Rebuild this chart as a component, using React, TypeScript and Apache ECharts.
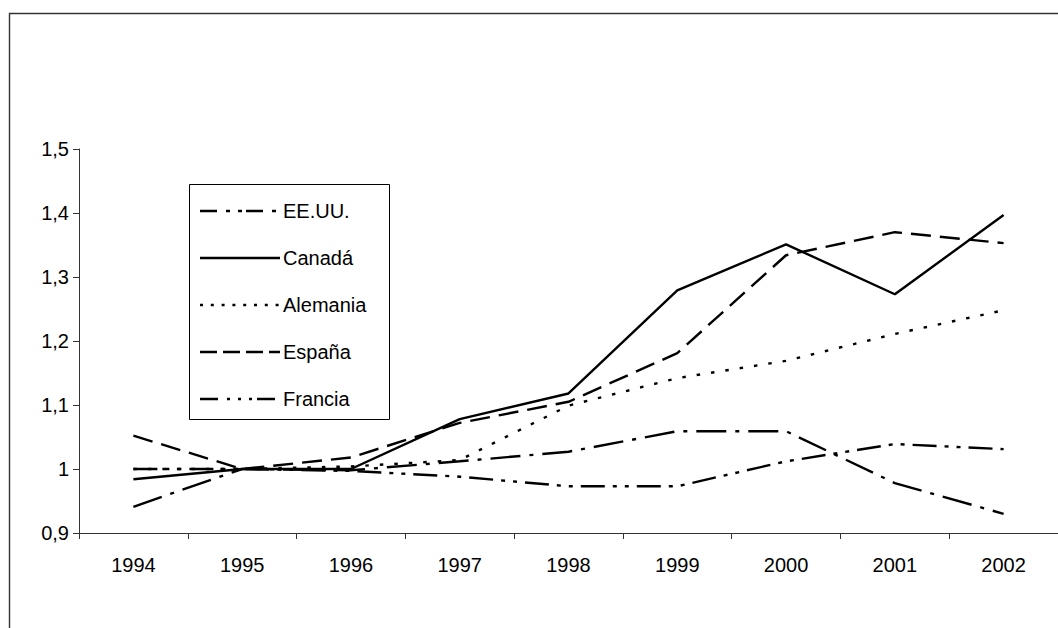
import React, { useEffect, useRef } from "react";
import * as echarts from "echarts";

const years = ["1994", "1995", "1996", "1997", "1998", "1999", "2000", "2001", "2002"];
const seriesNames = ["EE.UU.", "Canadá", "Alemania", "España", "Francia"];
const eeuu = [0.941, 1.0, 0.998, 1.012, 1.027, 1.059, 1.059, 0.978, 0.93];
const canada = [0.984, 1.0, 1.0, 1.078, 1.118, 1.279, 1.351, 1.273, 1.397];
const alemania = [1.0, 1.0, 1.004, 1.014, 1.099, 1.142, 1.169, 1.211, 1.248];
const espana = [1.052, 1.0, 1.018, 1.072, 1.105, 1.181, 1.334, 1.37, 1.353];
const francia = [1.0, 1.0, 0.997, 0.988, 0.973, 0.973, 1.012, 1.039, 1.031];
const seriesValues = [eeuu, canada, alemania, espana, francia];

const FONT = "'Liberation Sans', Arial, Helvetica, sans-serif";
const LW = 2.4;

// dash patterns for plot lines and legend samples
const plotDash: (number[] | "solid")[] = [
  [30, 9, 4, 9],
  "solid",
  [3.5, 11],
  [20, 9],
  [24, 8, 4, 8, 4, 8],
];
const legendDash: (number[] | null)[] = [
  [17, 9, 4, 8, 4, 4],
  null,
  [3, 7.8],
  [17, 6],
  [18, 9, 3, 8, 3, 8, 3, 5],
];

export default function App() {
  const ref = useRef<HTMLDivElement>(null);
  useEffect(() => {
    if (!ref.current) return;
    const chart = echarts.init(ref.current, undefined, { renderer: "svg" });

    const legendTop = 211;
    const legendStep = 47;
    const legendGraphics: any[] = [
      {
        type: "rect",
        shape: { x: 189.5, y: 184.5, width: 200, height: 235 },
        style: { fill: "#fff", stroke: "#000", lineWidth: 1 },
        z: 10,
      },
    ];
    seriesNames.forEach((name, i) => {
      const cy = legendTop + i * legendStep;
      const dash = legendDash[i];
      legendGraphics.push({
        type: "line",
        shape: { x1: 200, y1: cy, x2: 280, y2: cy },
        style: dash
          ? { stroke: "#000", lineWidth: LW, lineDash: dash }
          : { stroke: "#000", lineWidth: LW },
        z: 11,
      });
      legendGraphics.push({
        type: "text",
        x: 283,
        y: cy,
        style: {
          text: name,
          fill: "#000",
          font: `20px ${FONT}`,
          textVerticalAlign: "middle",
          textAlign: "left",
        },
        z: 11,
      });
    });

    const option: any = {
      animation: false,
      backgroundColor: "#fff",
      textStyle: { fontFamily: FONT },
      grid: { left: 79, top: 149, bottom: 95, right: -8, containLabel: false },
      xAxis: {
        type: "category",
        data: years,
        boundaryGap: true,
        axisLine: { lineStyle: { color: "#333", width: 1 } },
        axisTick: { show: true, length: 6, inside: false, alignWithLabel: false, lineStyle: { color: "#333" } },
        axisLabel: { color: "#000", fontSize: 20, fontFamily: FONT, margin: 22 },
        splitLine: { show: false },
      },
      yAxis: {
        type: "value",
        min: 0.9,
        max: 1.5,
        interval: 0.1,
        axisLine: { show: true, lineStyle: { color: "#333", width: 1 } },
        axisTick: { show: true, length: 6, inside: false, lineStyle: { color: "#333" } },
        axisLabel: {
          color: "#000",
          fontSize: 20,
          fontFamily: FONT,
          margin: 10,
          formatter: (v: number) => {
            const r = Math.round(v * 10) / 10;
            return String(r).replace(".", ",");
          },
        },
        splitLine: { show: false },
      },
      series: seriesNames.map((name, i) => ({
        name,
        type: "line",
        data: seriesValues[i],
        symbol: "none",
        smooth: false,
        lineStyle: { color: "#000", width: LW, type: plotDash[i] },
        z: 5 - i,
      })),
      graphic: [
        {
          type: "rect",
          shape: { x: 9.5, y: 13.5, width: 1300, height: 800 },
          style: { fill: "none", stroke: "#333", lineWidth: 1.4 },
          z: 1,
          silent: true,
        },
        ...legendGraphics,
      ],
    };
    chart.setOption(option);
    return () => chart.dispose();
  }, []);

  return (
    <div
      ref={ref}
      style={{ position: "fixed", left: 0, top: 0, width: 1058, height: 628, background: "#fff" }}
    />
  );
}
